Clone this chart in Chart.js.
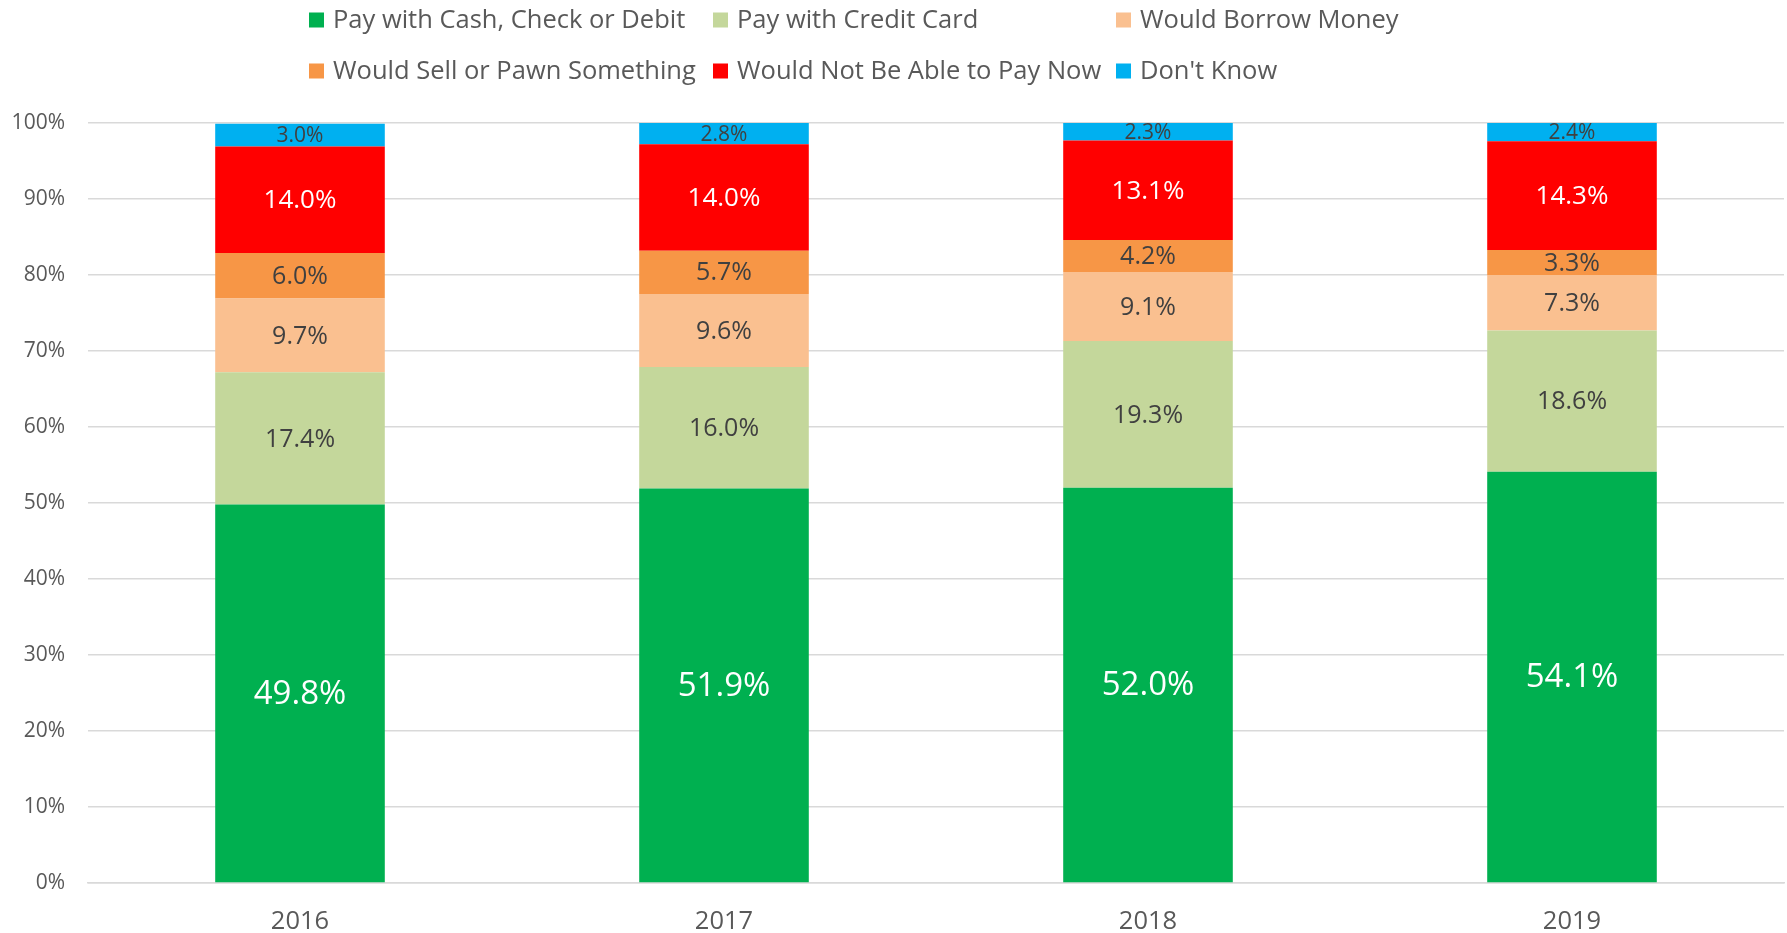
<!DOCTYPE html>
<html>
<head>
<meta charset="utf-8">
<script src="https://cdn.jsdelivr.net/npm/chart.js@4"></script>
<style>
  html, body { margin: 0; padding: 0; background: #fff; }
  #wrap { width: 1787px; height: 933px; position: relative; }
</style>
</head>
<body>
<div id="wrap"><canvas id="payChart"></canvas></div>
<script>
// chart data
const years = ['2016', '2017', '2018', '2019'];
const seriesNames = [
  'Pay with Cash, Check or Debit',
  'Pay with Credit Card',
  'Would Borrow Money',
  'Would Sell or Pawn Something',
  'Would Not Be Able to Pay Now',
  "Don't Know"
];
const cashCheckDebit = [49.8, 51.9, 52.0, 54.1];
const creditCard     = [17.4, 16.0, 19.3, 18.6];
const borrowMoney    = [9.7, 9.6, 9.1, 7.3];
const sellOrPawn     = [6.0, 5.7, 4.2, 3.3];
const notAbleToPay   = [14.0, 14.0, 13.1, 14.3];
const dontKnow       = [3.0, 2.8, 2.3, 2.4];
const yTicks = [0, 10, 20, 30, 40, 50, 60, 70, 80, 90, 100];

const seriesValues = [cashCheckDebit, creditCard, borrowMoney, sellOrPawn, notAbleToPay, dontKnow];
const seriesColors = ['#00B050', '#C4D79B', '#FAC090', '#F79646', '#FF0000', '#00B0F0'];
const labelColors  = ['#FFFFFF', '#404040', '#404040', '#404040', '#FFFFFF', '#404040'];
const labelSizes   = [33, 25, 25, 25, 26, 21];

const FONT = "'Open Sans', 'DejaVu Sans', sans-serif";

// value labels centred in each segment
const segmentLabels = {
  id: 'segmentLabels',
  afterDatasetsDraw(chart) {
    const ctx = chart.ctx;
    ctx.save();
    ctx.textAlign = 'center';
    ctx.textBaseline = 'middle';
    chart.data.datasets.forEach((ds, i) => {
      const meta = chart.getDatasetMeta(i);
      meta.data.forEach((bar, j) => {
        const yMid = (bar.y + bar.base) / 2;
        ctx.fillStyle = labelColors[i];
        ctx.font = labelSizes[i] + 'px ' + FONT;
        ctx.fillText(ds.data[j].toFixed(1) + '%', bar.x, yMid + 1);
      });
    });
    ctx.restore();
  }
};

// Excel-style legend: three columns, two rows
const columnLegend = {
  id: 'columnLegend',
  afterDraw(chart) {
    const ctx = chart.ctx;
    const colX = [309, 713, 1116];
    const rowY = [20, 71];
    ctx.save();
    ctx.font = '25.5px ' + FONT;
    ctx.textBaseline = 'middle';
    ctx.textAlign = 'left';
    chart.data.datasets.forEach((ds, i) => {
      const x = colX[i % 3], y = rowY[Math.floor(i / 3)];
      ctx.fillStyle = ds.backgroundColor;
      ctx.fillRect(x, y - 7.5, 15, 15);
      ctx.fillStyle = '#595959';
      ctx.fillText(ds.label, x + 24, y + 1);
    });
    ctx.restore();
  }
};

const payChart = new Chart(document.getElementById('payChart'), {
  type: 'bar',
  data: {
    labels: years,
    datasets: seriesNames.map((name, i) => ({
      label: name,
      data: seriesValues[i],
      backgroundColor: seriesColors[i],
      borderWidth: 0,
      categoryPercentage: 1.0,
      barPercentage: 0.4,
    }))
  },
  options: {
    responsive: true,
    maintainAspectRatio: false,
    animation: false,
    layout: { padding: { top: 123, left: 11, right: 3, bottom: 0 } },
    scales: {
      x: {
        stacked: true,
        afterFit: axis => { axis.height = 50; },
        grid: { display: false, drawTicks: false },
        border: { color: '#D9D9D9', width: 1.5 },
        ticks: { color: '#595959', font: { family: FONT, size: 25.5 }, padding: 23 }
      },
      y: {
        stacked: true,
        min: 0,
        max: 100,
        afterFit: axis => { axis.width = 77; },
        afterBuildTicks: axis => { axis.ticks = yTicks.map(v => ({ value: v })); },
        grid: { color: '#D9D9D9', lineWidth: 1.5, drawTicks: false },
        border: { display: false },
        ticks: {
          color: '#595959',
          font: { family: FONT, size: 21 },
          padding: 23,
          callback: v => v + '%'
        }
      }
    },
    plugins: {
      legend: { display: false },
      tooltip: { enabled: false }
    }
  },
  plugins: [segmentLabels, columnLegend]
});
</script>
</body>
</html>
